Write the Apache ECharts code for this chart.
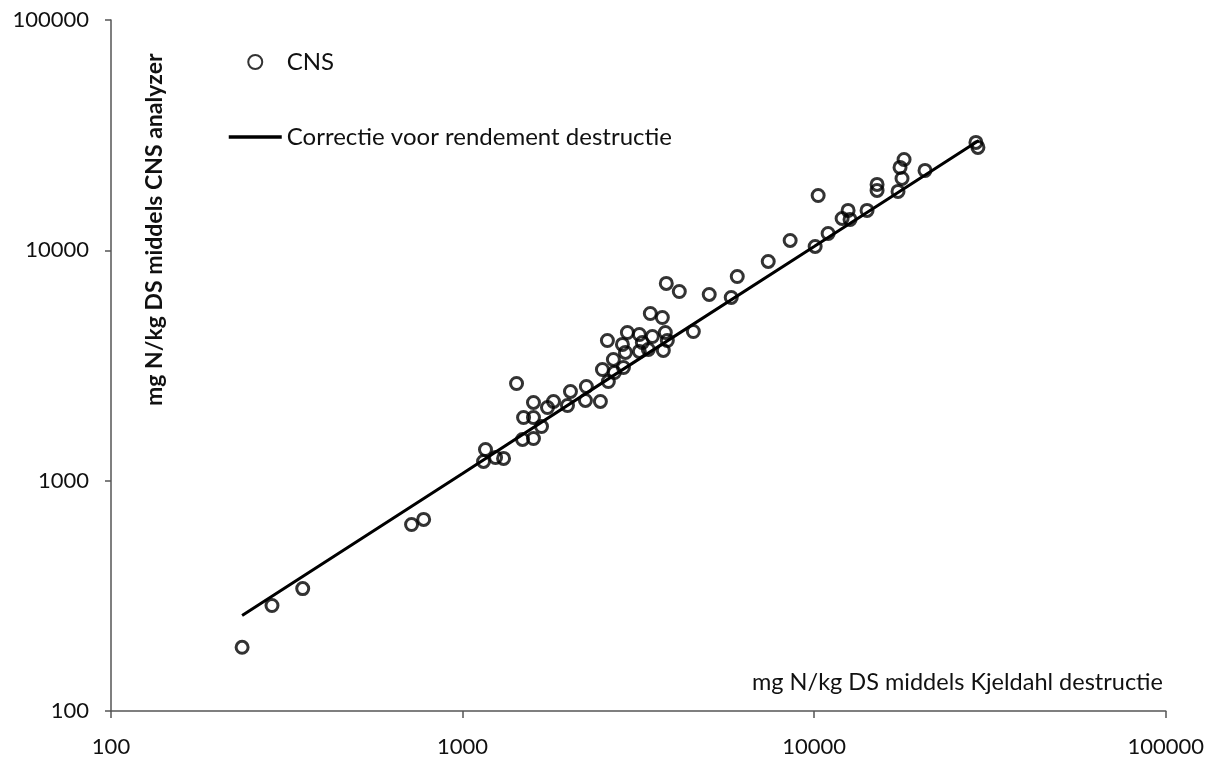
<!DOCTYPE html>
<html>
<head>
<meta charset="utf-8">
<script src="https://cdn.jsdelivr.net/npm/echarts@6/dist/echarts.min.js"></script>
<style>
  html, body { margin: 0; padding: 0; background: #fff; }
  #chart { width: 1207px; height: 760px; }
</style>
</head>
<body>
<div id="chart"></div>
<script>
// CNS analyzer vs Kjeldahl destructie (mg N/kg DS)
const kjeldahl = [
  236, 287, 351, 716, 775, 1162, 1147, 1241, 1308, 1424,
  1591, 1491, 1591, 1744, 1814, 1677, 1481, 1591, 1988, 2027,
  2250, 2236, 2466, 2499, 2685, 2868, 2598, 2582, 2849, 2943,
  3183, 3246, 3466, 3773, 3823, 3724, 3183, 2905, 2703, 3420,
  3700, 3797, 4135, 4533, 5030, 5810, 6044, 7403, 8546, 10066,
  10266, 10959, 12010, 12490, 12650, 14140, 15100, 15100, 17320, 17780,
  17550, 18020, 20670, 28850, 29230, 3376
];
const cns = [
  189, 287, 340, 645, 679, 1366, 1212, 1261, 1249, 2643,
  2186, 1881, 1881, 2079, 2208, 1719, 1510, 1525, 2121, 2440,
  2564, 2230, 2208, 3040, 3360, 3101, 2696, 4062, 3904, 4400,
  4313, 3982, 4228, 4400, 4062, 3676, 3640, 3604, 2950, 5321,
  5112, 7184, 6630, 4444, 6435, 6245, 7702, 8949, 11040, 10398,
  17310, 11840, 13756, 14903, 13620, 14903, 19330, 18200, 18020, 20520,
  22910, 24810, 22230, 29410, 27980, 3713
];

// correction line
const corrX = [236, 1000, 3000, 10000, 29400];
const corrY = [260, 1075, 3190, 10380, 30000];

const xTicks = [100, 1000, 10000, 100000];
const yTicks = [100, 1000, 10000, 100000];

const font = "Lato";
const ink = "#111";

let chart = echarts.init(document.getElementById("chart"));

let option = {
  animation: false,
  backgroundColor: "#fff",
  textStyle: { fontFamily: font },
  grid: { left: 111, right: 41, top: 20, bottom: 49 },
  legend: {
    orient: "vertical",
    left: 222,
    top: 45,
    itemWidth: 53,
    itemHeight: 14,
    itemGap: 51,
    data: [
      { name: "CNS" },
      {
        name: "Correctie voor rendement destructie",
        itemStyle: { color: "rgba(0,0,0,0)", borderWidth: 0 },
        lineStyle: { color: "#000", width: 3.5 },
      },
    ],
    textStyle: { fontFamily: font, fontSize: 24, color: ink, lineHeight: 24 },
  },
  xAxis: {
    type: "log",
    logBase: 10,
    min: xTicks[0],
    max: xTicks[xTicks.length - 1],
    splitLine: { show: false },
    axisLine: { lineStyle: { color: "#555", width: 1.5 } },
    axisTick: { length: 7, lineStyle: { color: "#555", width: 1.5 } },
    axisLabel: {
      margin: 25,
      fontSize: 22,
      color: ink,
      fontFamily: font,
      formatter: (v) => String(Math.round(v)),
    },
    minorTick: { show: false },
  },
  yAxis: {
    type: "log",
    logBase: 10,
    min: yTicks[0],
    max: yTicks[yTicks.length - 1],
    splitLine: { show: false },
    axisLine: { show: true, lineStyle: { color: "#555", width: 1.5 } },
    axisTick: { show: true, length: 6, lineStyle: { color: "#555", width: 1.5 } },
    axisLabel: {
      margin: 22,
      fontSize: 22,
      color: ink,
      fontFamily: font,
      formatter: (v) => String(Math.round(v)),
    },
  },
  graphic: [
    {
      type: "text",
      right: 44,
      top: 670,
      style: {
        text: "mg N/kg DS middels Kjeldahl destructie",
        font: "23.5px " + font,
        fill: ink,
      },
    },
    {
      type: "text",
      x: 143,
      y: 406,
      rotation: Math.PI / 2,
      style: {
        text: "mg N/kg DS middels CNS analyzer",
        font: "bold 23px " + font,
        fill: ink,
      },
    },
  ],
  series: [
    {
      name: "CNS",
      type: "scatter",
      symbol: "circle",
      symbolSize: 12,
      itemStyle: { color: "rgba(0,0,0,0)", borderColor: "#000", borderWidth: 3 },
      data: kjeldahl.map((x, i) => [x, cns[i]]),
      z: 3,
    },
    {
      name: "Correctie voor rendement destructie",
      type: "line",
      symbol: "none",
      itemStyle: { color: "#000" },
      lineStyle: { color: "#000", width: 3 },
      data: corrX.map((x, i) => [x, corrY[i]]),
      z: 2,
    },
  ],
};

chart.setOption(option);
</script>
</body>
</html>
